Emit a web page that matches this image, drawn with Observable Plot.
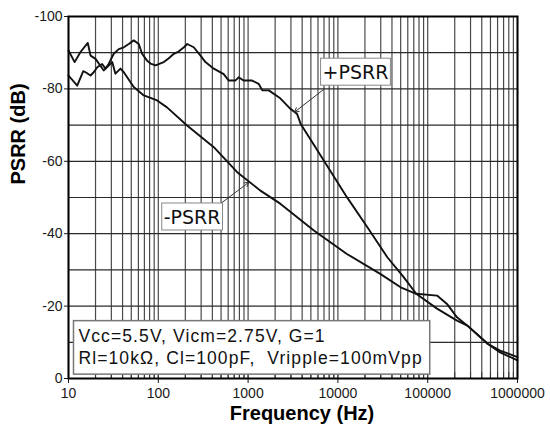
<!DOCTYPE html>
<html><head><meta charset="utf-8">
<script src="https://cdn.jsdelivr.net/npm/d3@7"></script>
<script src="https://cdn.jsdelivr.net/npm/@observablehq/plot@0.6"></script>
<style>body{margin:0;background:#fff} svg{display:block}</style>
</head><body>
<script>
// +PSRR (Hz, dB)
const posFreq = [10, 12.5, 14.6, 15.5, 17.6, 19.1, 20.9, 23.7, 25.8, 28, 31.9, 36.3, 41.3, 46.9, 53.3, 60.6, 66, 75, 82, 93, 115, 130, 149, 168, 193, 210, 248, 295, 335, 415, 535, 610, 720, 785, 890, 1110, 1310, 1440, 1700, 2280, 2960, 3510, 3840, 6960, 12600, 21300, 35500, 54000, 74500, 127000, 212000, 277000, 465000, 640000, 1000000];
const posDb   = [-83.7, -80.9, -84.9, -84.6, -83.7, -84.6, -86.0, -86.9, -85.6, -86.9, -89.7, -91.0, -91.5, -92.4, -93.4, -92.4, -89.7, -87.8, -87.0, -86.5, -87.4, -88.4, -89.7, -90.3, -91.5, -92.4, -91.5, -89.2, -87.4, -85.6, -84.1, -82.3, -82.3, -83.2, -82.3, -82.3, -81.4, -79.6, -79.6, -77.4, -74.5, -73.1, -70.4, -60.2, -50.1, -41.8, -33.5, -28.0, -23.4, -19.3, -16.0, -14.6, -9.6, -7.2, -5.0];
// -PSRR (Hz, dB)
const negFreq = [10, 11.7, 13.6, 16.4, 17.6, 20, 24.7, 30.7, 33.3, 37.9, 41.3, 53.3, 69, 97, 125, 209, 415, 756, 1370, 2280, 5400, 12600, 29600, 50000, 74500, 127000, 164000, 212000, 277000, 465000, 640000, 1000000];
const negDb   = [-90.6, -87.4, -90.2, -92.7, -89.2, -88.3, -85.1, -87.4, -84.2, -85.6, -84.6, -80.5, -78.2, -76.8, -74.9, -69.9, -63.9, -57.0, -51.9, -48.3, -40.9, -34.4, -28.9, -25.2, -23.4, -22.9, -20.6, -16.9, -14.6, -9.6, -7.7, -5.9];

const xTicks = [10, 100, 1000, 10000, 100000, 1000000];
const yTicks = [-100, -80, -60, -40, -20, 0];
const yGrid = [-100, -90, -80, -70, -60, -50, -40, -30, -20, -10, 0];
const xGrid = [1, 2, 3, 4, 5].flatMap(n => [1, 2, 3, 4, 5, 6, 7, 8, 9].map(k => k * 10 ** n)).concat([1000000]);

const curveLabels = ["+PSRR", "-PSRR"];
const labelFreq = [15700, 238];
const labelDb = [-84.5, -44.5];
const arrowFromFreq = [6860, 493];
const arrowFromDb = [-79.75, -48.3];
const arrowToFreq = [3290, 1019];
const arrowToDb = [-73.6, -54.2];

const conditions = ["Vcc=5.5V, Vicm=2.75V, G=1\nRl=10kΩ, Cl=100pF,  Vripple=100mVpp"];
const condFreq = [12.92];
const condDb = [-14.36];

const xTitle = ["Frequency (Hz)"];
const yTitle = ["PSRR (dB)"];

const pos = posFreq.map((f, i) => ({f, db: posDb[i]}));
const neg = negFreq.map((f, i) => ({f, db: negDb[i]}));
const labels = curveLabels.map((t, i) => ({t, f: labelFreq[i], db: labelDb[i]}));
const arrows = curveLabels.map((t, i) => ({x1: arrowFromFreq[i], y1: arrowFromDb[i], x2: arrowToFreq[i], y2: arrowToDb[i]}));
const cond = conditions.map((t, i) => ({t, f: condFreq[i], db: condDb[i]}));

const sans = "'Liberation Sans', Arial, Helvetica, sans-serif";

const svg = Plot.plot({
  width: 550,
  height: 432,
  marginLeft: 68,
  marginRight: 33,
  marginTop: 16,
  marginBottom: 54,
  style: {fontFamily: sans, fontSize: "14px", color: "#1a1a1a", background: "#fff"},
  x: {type: "log", domain: [10, 1000000], ticks: xTicks, tickFormat: d => String(d), label: null, tickSize: 5, tickPadding: 5},
  y: {domain: [0, -100], ticks: yTicks, tickFormat: d => String(d), label: null, tickSize: 4, tickPadding: 2},
  marks: [
    Plot.ruleX(xGrid, {stroke: "#4a4a4a", strokeWidth: 1.2}),
    Plot.ruleY(yGrid, {stroke: "#2a2a2a", strokeWidth: 1.2}),
    Plot.line(pos, {x: "f", y: "db", stroke: "#111", strokeWidth: 1.9}),
    Plot.line(neg, {x: "f", y: "db", stroke: "#111", strokeWidth: 1.9}),
    Plot.ruleX(xGrid, {y1: 0, y2: -1.7, stroke: "#333", strokeWidth: 1}),
    Plot.arrow(arrows, {x1: "x1", y1: "y1", x2: "x2", y2: "y2", stroke: "#333", strokeWidth: 1, headLength: 7}),
    Plot.text(labels, {x: "f", y: "db", text: "t", fontFamily: "'DejaVu Sans', Verdana, sans-serif", fontSize: 19, fill: "#111"}),
    Plot.text(cond, {x: "f", y: "db", text: "t", textAnchor: "start", lineAnchor: "top", lineHeight: 1.257, fontFamily: sans, fontSize: 17.5, fill: "#111"}),
    Plot.text(xTitle, {text: d => d, frameAnchor: "bottom", dx: 9, dy: 41.6, fontWeight: "bold", fontSize: 20, fontFamily: sans, fill: "#000"}),
    Plot.text(yTitle, {text: d => d, frameAnchor: "left", rotate: -90, dx: -49.5, dy: -13, fontWeight: "bold", fontSize: 20, fontFamily: sans, fill: "#000"}),
    Plot.frame({stroke: "#000", strokeWidth: 2})
  ]
});
document.body.appendChild(svg);

// white boxes behind annotation texts
d3.select(svg).selectAll("text").each(function() {
  const s = this.textContent;
  let pad = null, stroke = "#888", sw = 1;
  if (s === "+PSRR" || s === "-PSRR") {
    pad = {l: 2, r: 2, t: 2.5, b: 2.5};
  } else if (s.startsWith("Vcc=")) {
    this.style.letterSpacing = "1.1px";
    pad = {l: 5, r: 7, t: 5.5, b: 6};
    stroke = "#777"; sw = 1.5;
  }
  if (!pad) return;
  const bb = this.getBBox();
  const r = document.createElementNS("http://www.w3.org/2000/svg", "rect");
  r.setAttribute("x", bb.x - pad.l);
  r.setAttribute("y", bb.y - pad.t);
  r.setAttribute("width", bb.width + pad.l + pad.r);
  r.setAttribute("height", bb.height + pad.t + pad.b);
  r.setAttribute("fill", "#fff");
  r.setAttribute("stroke", stroke);
  r.setAttribute("stroke-width", sw);
  const tr = this.getAttribute("transform");
  if (tr) r.setAttribute("transform", tr);
  this.parentNode.insertBefore(r, this);
});
</script>
</body></html>
